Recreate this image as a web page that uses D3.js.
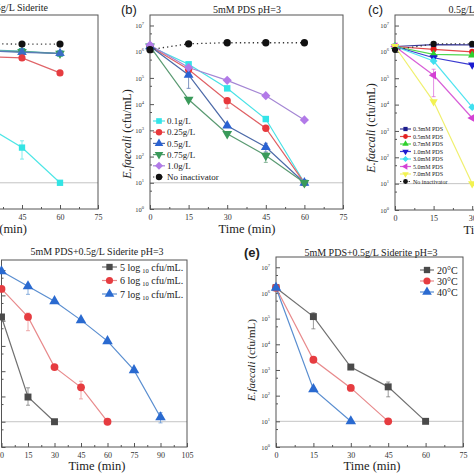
<!DOCTYPE html>
<html><head><meta charset="utf-8">
<script src="https://cdn.jsdelivr.net/npm/d3@7"></script>
<style>body{margin:0;background:#fff} svg{display:block}</style>
</head><body><svg id="chart" width="474" height="474"></svg>
<script>
// ---------- DATA ----------
const timesA = [0, 15, 30, 45, 60];
const aNoInact = [1.2e6, 2.0e6, 2.0e6, 1.95e6, 1.95e6];
const aTeal   = [1.6e6, 1.4e6, 1.2e6, 1.05e6, 8.5e5];
const aGreen  = [1.6e6, 1.3e6, 1.1e6, 1.0e6, 8.5e5];
const aBlue   = [1.6e6, 1.3e6, 1.1e6, 9.5e5, 8.7e5];
const aRed    = [1.6e6, 1.2e6, 6.5e5, 5.8e5, 1.55e5];
const aCyan   = [1.6e6, 1.0e5, 1.65e3, 2.2e2, 10];
const aCyanErr = [null, null, null, [80, 4.0e2], null];

const timesB = [0, 15, 30, 45, 60];
const bLabels = ["0.1g/L", "0.25g/L", "0.5g/L", "0.75g/L", "1.0g/L", "No inactivator"];
const b01  = [1.6e6, 3.3e5, 4.0e4, 2.7e3, 10];
const b025 = [1.6e6, 2.1e5, 1.35e4, 1.2e3, 10];
const b05  = [1.6e6, 1.3e5, 1.5e3, 2.3e2, 10];
const b075 = [1.6e6, 1.5e4, 7.4e2, 1.1e2, 10];
const b10  = [1.8e6, 2.5e5, 8.1e4, 2.1e4, 2.5e3];
const bNoInact = [1.2e6, 2.0e6, 2.2e6, 2.2e6, 2.2e6];
const b025Err = [null, null, [7.0e3, 1.6e4], null, null];
const b05Err  = [null, [4.0e4, 1.6e5], null, [1.5e2, 3.2e2], null];
const b075Err = [null, null, null, [60, 1.4e2], null];

const timesC = [0, 15, 30];
const cLabels = ["0.3mM PDS", "0.5mM PDS", "0.7mM PDS", "1.0mM PDS", "3.0mM PDS", "5.0mM PDS", "7.0mM PDS", "No inactivator"];
const c03 = [1.6e6, 1.9e6, 1.85e6];
const c05 = [1.6e6, 1.25e6, 1.0e6];
const c07 = [1.6e6, 8.0e5, 7.5e5];
const c10 = [1.6e6, 6.0e5, 3.2e5];
const c30 = [1.6e6, 4.5e5, 8.0e3];
const c50 = [1.6e6, 1.3e5, 3.1e3];
const c70 = [1.6e6, 1.3e4, 10];
const cNoInact = [1.2e6, 2.0e6, 2.0e6];
const c50Err = [null, [2.0e4, 2.2e5], null];

const dLabels = ["5 log", "6 log", "7 log"];
const times5 = [0, 15, 30];
const times6 = [0, 15, 30, 45, 60];
const times7 = [0, 15, 30, 45, 60, 75, 90];
const d5 = [1.4e5, 95, 10];
const d6 = [1.8e6, 1.4e5, 1.45e3, 2.3e2, 10];
const d7 = [9.0e6, 2.3e6, 5.9e5, 1.05e5, 1.55e4, 1.1e3, 15];
const d5Err = [null, [45, 2.2e2], null];
const d6Err = [null, [4.0e4, 2.0e5], null, [80, 4.0e2], null];
const d7Err = [null, [1.1e6, 2.6e6], null, null, null, null, [9, 23]];

const eLabels = ["20°C", "30°C", "40°C"];
const times20 = [0, 15, 30, 45, 60];
const times30 = [0, 15, 30, 45];
const times40 = [0, 15, 30];
const e20 = [1.6e6, 1.2e5, 1.3e3, 2.2e2, 10];
const e30 = [1.6e6, 2.5e3, 2.0e2, 10];
const e40 = [1.6e6, 1.8e2, 10];
const e20Err = [null, [4.0e4, 1.7e5], null, [90, 3.4e2], null];

const yMajor = [1, 10, 100, 1e3, 1e4, 1e5, 1e6, 1e7];

// ---------- DRAW ----------
const W = 474;
const svg = d3.select("#chart");
const serif = "'Liberation Serif','Times New Roman',serif";
const sans = "'Liberation Sans',Arial,sans-serif";
const YTOP = Math.pow(10, 7.4);

function symPath(kind, size) {
  let t = d3.symbolSquare, rot = 0;
  if (kind === "circle") t = d3.symbolCircle;
  if (kind === "up") t = d3.symbolTriangle;
  if (kind === "down") { t = d3.symbolTriangle; rot = 180; }
  if (kind === "left") { t = d3.symbolTriangle; rot = -90; }
  if (kind === "diamond") { t = d3.symbolSquare; rot = 45; }
  return { d: d3.symbol().type(t).size(size)(), rot };
}

function panel(p) {
  const g = svg.append("g");
  const x = d3.scaleLinear().domain([0, p.xMax]).range([p.left, p.right]);
  const y = d3.scaleLog().domain([1, YTOP]).range([p.bottom, p.top]);

  g.append("line").attr("x1", p.left).attr("x2", p.right)
    .attr("y1", y(10)).attr("y2", y(10)).attr("stroke", "#c4c4c4").attr("stroke-width", 1);

  // x axis
  const xa = g.append("g").attr("transform", `translate(0,${p.bottom})`)
    .call(d3.axisBottom(x).tickValues(d3.range(0, p.xMax + 0.1, 15))
      .tickSizeInner(-4).tickSizeOuter(0).tickPadding(5));
  xa.selectAll(".tick text").attr("font-family", serif).attr("font-size", 8).attr("fill", "#333")
    .filter(d => x(d) < -4 || x(d) > W + 4).remove();
  const xm = g.append("g").attr("transform", `translate(0,${p.bottom})`)
    .call(d3.axisBottom(x).tickValues(d3.range(7.5, p.xMax, 15))
      .tickSizeInner(-2).tickSizeOuter(0).tickFormat(() => ""));
  [xa, xm].forEach(a => { a.select(".domain").remove(); a.selectAll("line").attr("stroke", "#555"); });

  // y axis
  const ya = g.append("g").attr("transform", `translate(${p.left},0)`)
    .call(d3.axisLeft(y).tickValues(yMajor).tickSizeInner(-4).tickSizeOuter(0).tickPadding(4));
  if (p.left < 14) ya.selectAll(".tick text").remove();
  ya.selectAll(".tick text").each(function (d) {
    const t = d3.select(this);
    t.text("10").attr("font-family", serif).attr("font-size", 6.5).attr("fill", "#333").attr("dx", "-2");
    t.append("tspan").attr("dy", -3).attr("font-size", 4.5).text(Math.round(Math.log10(d)));
  });
  const minors = [];
  for (let k = 0; k < 8; k++) { const v = 5 * Math.pow(10, k); if (v < YTOP) minors.push(v); }
  const ym = g.append("g").attr("transform", `translate(${p.left},0)`)
    .call(d3.axisLeft(y).tickValues(minors).tickSizeInner(-2).tickSizeOuter(0).tickFormat(() => ""));
  [ya, ym].forEach(a => { a.select(".domain").remove(); a.selectAll("line").attr("stroke", "#555"); });

  // frame
  g.append("rect").attr("x", p.left).attr("y", p.top)
    .attr("width", p.right - p.left).attr("height", p.bottom - p.top)
    .attr("fill", "none").attr("stroke", "#555").attr("stroke-width", 1);

  const line = d3.line().x(d => x(d[0])).y(d => y(d[1]));
  p.series.forEach(s => {
    const pts = s.t.map((t, i) => [t, s.v[i]]);
    g.append("path").datum(pts).attr("d", line).attr("fill", "none")
      .attr("stroke", s.lc || s.c).attr("stroke-width", s.dotted ? 1.3 : 1.2)
      .attr("stroke-dasharray", s.dotted ? "1.3,3" : null);
    if (s.err) s.err.forEach((e, i) => {
      if (!e) return;
      const xx = x(s.t[i]);
      g.append("line").attr("x1", xx).attr("x2", xx).attr("y1", y(e[0])).attr("y2", y(e[1]))
        .attr("stroke", s.lc || s.c).attr("stroke-opacity", 0.7).attr("stroke-width", 1);
      [e[0], e[1]].forEach(v => g.append("line").attr("x1", xx - 2).attr("x2", xx + 2)
        .attr("y1", y(v)).attr("y2", y(v)).attr("stroke", s.lc || s.c).attr("stroke-opacity", 0.7));
    });
  });
  p.series.forEach(s => {
    const sp = symPath(s.m, p.msize);
    s.t.forEach((t, i) => {
      g.append("path").attr("d", sp.d)
        .attr("transform", `translate(${x(t)},${y(s.v[i])}) rotate(${sp.rot})`)
        .attr("fill", s.c);
    });
  });

  // legend
  if (p.legend) {
    const L = p.legend;
    L.items.forEach((s, i) => {
      const yy = L.y + i * L.dy;
      g.append("line").attr("x1", L.x1).attr("x2", L.x2).attr("y1", yy).attr("y2", yy)
        .attr("stroke", s.lc || s.c).attr("stroke-width", 1.2)
        .attr("stroke-dasharray", s.dotted ? "1.3,3" : null);
      const sp = symPath(s.m, L.msize);
      g.append("path").attr("d", sp.d)
        .attr("transform", `translate(${(L.x1 + L.x2) / 2},${yy}) rotate(${sp.rot})`).attr("fill", s.c);
      const tx = g.append("text").attr("x", L.tx).attr("y", yy).attr("dy", "0.35em")
        .attr("font-family", serif).attr("font-size", L.fs).attr("fill", "#222");
      if (s.logLabel) {
        tx.append("tspan").text(s.name + "\u2009");
        tx.append("tspan").attr("dy", 2).attr("font-size", L.fs * 0.65).text("10");
        tx.append("tspan").attr("dy", -2).text(" cfu/mL.");
      } else tx.text(s.name);
    });
  }

  // texts
  if (p.title) g.append("text").attr("x", p.title.x).attr("y", p.title.y)
    .attr("text-anchor", p.title.anchor || "middle").attr("font-family", serif)
    .attr("font-size", 10).attr("fill", "#222").text(p.title.text);
  if (p.xlabel) g.append("text").attr("x", p.xlabel.x).attr("y", p.xlabel.y)
    .attr("text-anchor", p.xlabel.anchor || "middle").attr("font-family", serif)
    .attr("font-size", 12.5).attr("fill", "#222").text("Time (min)");
  if (p.ylabel) {
    const t = g.append("text").attr("transform", `translate(${p.ylabel.x},${p.ylabel.y}) rotate(-90)`)
      .attr("text-anchor", "middle").attr("font-family", serif).attr("font-size", p.ylabel.fs).attr("fill", "#222");
    t.append("tspan").attr("font-style", "italic").text("E.faecali");
    t.append("tspan").text(" (cfu/mL)");
  }
  if (p.tag) svg.append("text").attr("x", p.tag.x).attr("y", p.tag.y).attr("font-family", sans)
    .attr("font-size", 13).attr("font-weight", p.tag.bold ? "bold" : "normal").attr("fill", "#222").text(p.tag.text);
}

// Panel (a)
panel({
  left: -92, right: 98, top: 15, bottom: 209, xMax: 75, msize: 40,
  series: [
    { t: timesA, v: aTeal, c: "#2fa6a6", lc: "#5ab8c8", m: "square" },
    { t: timesA, v: aGreen, c: "#3a9a5e", lc: "#5aa07a", m: "down" },
    { t: timesA, v: aBlue, c: "#3a6ec4", lc: "#5a7ab8", m: "up" },
    { t: timesA, v: aRed, c: "#e63c40", lc: "#e06468", m: "circle" },
    { t: timesA, v: aCyan, c: "#33e4e4", lc: "#4ee6e6", m: "square", err: aCyanErr },
    { t: timesA, v: aNoInact, c: "#111", lc: "#444", m: "circle", dotted: true }
  ],
  title: { x: 48, y: 11, text: "5mM PDS+0.5g/L Siderite", anchor: "end" },
  xlabel: { x: 27, y: 233, anchor: "end" }
});

// Panel (b)
const bSeries = [
  { name: bLabels[0], t: timesB, v: b01, c: "#33e4e8", lc: "#48e2e6", m: "square" },
  { name: bLabels[1], t: timesB, v: b025, c: "#e8383c", lc: "#e06064", m: "circle", err: b025Err },
  { name: bLabels[2], t: timesB, v: b05, c: "#2a62d2", lc: "#4c6aa8", m: "up", err: b05Err },
  { name: bLabels[3], t: timesB, v: b075, c: "#3a9a5a", lc: "#5a9a72", m: "down", err: b075Err },
  { name: bLabels[4], t: timesB, v: b10, c: "#b27ae8", lc: "#a486d4", m: "diamond" },
  { name: bLabels[5], t: timesB, v: bNoInact, c: "#111", lc: "#333", m: "circle", dotted: true }
];
panel({
  left: 150, right: 343, top: 15, bottom: 209, xMax: 75, msize: 42,
  series: bSeries,
  legend: { items: bSeries, x1: 153, x2: 165, y: 121, dy: 11.2, tx: 167, fs: 9, msize: 32 },
  title: { x: 247, y: 13, text: "5mM PDS  pH=3" },
  xlabel: { x: 247, y: 233 },
  ylabel: { x: 131, y: 134, fs: 12 },
  tag: { x: 121, y: 14, text: "(b)" }
});

// Panel (c)
const cSeries = [
  { name: cLabels[0], t: timesC, v: c03, c: "#1c1c8c", lc: "#3a3a9a", m: "square" },
  { name: cLabels[1], t: timesC, v: c05, c: "#e42020", lc: "#e44848", m: "circle" },
  { name: cLabels[2], t: timesC, v: c07, c: "#2ed02e", lc: "#50d850", m: "up" },
  { name: cLabels[3], t: timesC, v: c10, c: "#1c1cd0", lc: "#3a3ad0", m: "down" },
  { name: cLabels[4], t: timesC, v: c30, c: "#40e0f0", lc: "#50e4f0", m: "diamond" },
  { name: cLabels[5], t: timesC, v: c50, c: "#d440d4", lc: "#d860d8", m: "left", err: c50Err },
  { name: cLabels[6], t: timesC, v: c70, c: "#f2f250", lc: "#f0f070", m: "down" },
  { name: cLabels[7], t: timesC, v: cNoInact, c: "#111", lc: "#333", m: "circle", dotted: true }
];
panel({
  left: 395, right: 588, top: 15, bottom: 210, xMax: 75, msize: 30,
  series: cSeries,
  legend: { items: cSeries, x1: 400, x2: 411, y: 129, dy: 7.5, tx: 413, fs: 6, msize: 18 },
  title: { x: 491, y: 13, text: "0.5g/L Siderite  pH=3" },
  xlabel: { x: 492, y: 234 },
  ylabel: { x: 375, y: 128, fs: 12 },
  tag: { x: 368, y: 14, text: "(c)" }
});

// Panel (d)
const dSeries = [
  { name: dLabels[0], t: times5, v: d5, c: "#4a4a4a", lc: "#707070", m: "square", err: d5Err, logLabel: true },
  { name: dLabels[1], t: times6, v: d6, c: "#e63c40", lc: "#e88a8c", m: "circle", err: d6Err, logLabel: true },
  { name: dLabels[2], t: times7, v: d7, c: "#2a6ad0", lc: "#5a8ed0", m: "up", err: d7Err, logLabel: true }
];
panel({
  left: 1.5, right: 187, top: 260, bottom: 447, xMax: 105, msize: 48,
  series: dSeries,
  legend: { items: dSeries, x1: 102, x2: 117, y: 267, dy: 13.5, tx: 120, fs: 10, msize: 40 },
  title: { x: 97, y: 255, text: "5mM PDS+0.5g/L Siderite  pH=3" },
  xlabel: { x: 97, y: 470 }
});

// Panel (e)
const eSeries = [
  { name: eLabels[0], t: times20, v: e20, c: "#4a4a4a", lc: "#707070", m: "square", err: e20Err },
  { name: eLabels[1], t: times30, v: e30, c: "#e63c40", lc: "#e88a8c", m: "circle" },
  { name: eLabels[2], t: times40, v: e40, c: "#2a6ad0", lc: "#5a8ed0", m: "up" }
];
panel({
  left: 276, right: 463, top: 257, bottom: 447, xMax: 75, msize: 48,
  series: eSeries,
  legend: { items: eSeries, x1: 420, x2: 434, y: 270, dy: 11, tx: 437, fs: 10, msize: 40 },
  title: { x: 371, y: 256, text: "5mM PDS+0.5g/L Siderite  pH=3" },
  xlabel: { x: 372, y: 470 },
  ylabel: { x: 255, y: 360, fs: 11 },
  tag: { x: 244, y: 257, text: "(e)", bold: true }
});
</script></body></html>
